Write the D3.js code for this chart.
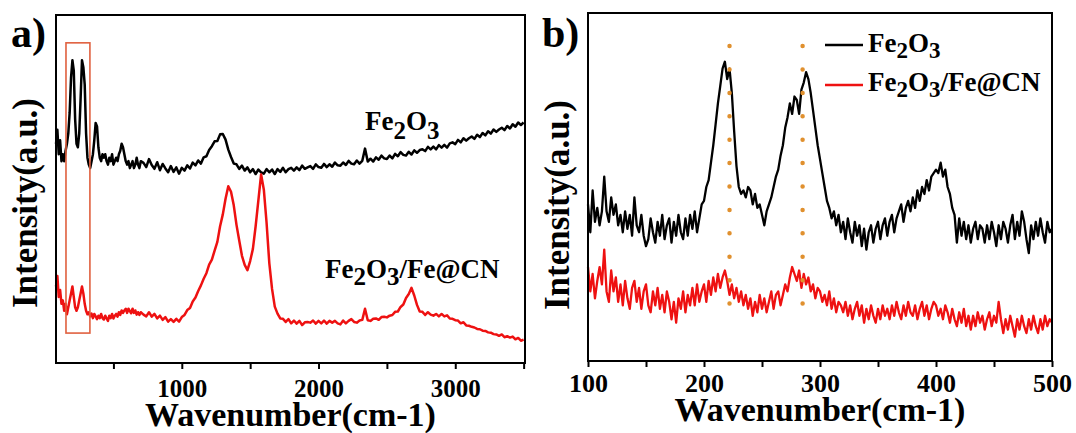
<!DOCTYPE html>
<html><head><meta charset="utf-8">
<script src="https://cdn.jsdelivr.net/npm/d3@7"></script>
<style>
body{margin:0;background:#fff}
svg{display:block}
</style>
</head><body>
<svg id="c" width="1076" height="433"></svg>
<script>
// ---------------- data ----------------
const ticksA = [500, 1000, 1500, 2000, 2500, 3000, 3500];
const tickLabelsA = [1000, 2000, 3000];
const ticksB = [100, 150, 200, 250, 300, 350, 400, 450, 500];
const tickLabelsB = [100, 200, 300, 400, 500];
const xDomainA = [80, 3510];
const xDomainB = [100, 500];
const lowRangeA = [80, 700];     // wavenumber span of the *LowA arrays
const highRangeA = [720, 3500];  // wavenumber span of the *HighA arrays
const rangeB = [100, 500];       // wavenumber span of panel b arrays
const boxA = [153, 328, 8.6, 92];  // red highlight box: wn0, wn1, low, high
const peakMarkersB = [222, 285];
const markerSpanB = [9.8, 90.5];

const fe2o3LowA = [63,67,60,64,58,60,58,61,63,66,
 72,82,87,84,70,63,62,66,76,87,
 85,80,66,59,57,56,58,60,64,69,
 68,62,59,58,60,59,60,58,57,59,
 58,60,57,58,59,58,60,61,63,62,
 60,58,57,58,56,57,58,56,57,59,
 57,56,58];
const fe2o3HighA = [57.5,56.3,58.6,56.9,55.8,57.7,55.4,57.2,55.9,54.8,
 56.6,54.9,56.2,54.4,56.1,55.3,56.8,55.9,57.6,56.8,
 58.2,57.3,59.1,59.4,61.2,62.3,63.7,63.8,65.7,65.8,
 64.2,61.3,59.2,57.3,57.1,55.8,56.7,55.3,56.2,54.8,
 55.7,54.3,55.6,54.8,54.4,55.7,54.8,55.6,54.3,55.7,
 54.9,56.1,54.8,55.7,56.1,55.3,56.2,55.4,56.7,55.8,
 56.2,56.6,55.8,57.1,56.3,56.1,57.2,56.3,57.1,56.4,
 57.6,56.8,56.7,57.6,56.9,58.1,57.3,57.1,58.2,57.3,
 58.1,61.6,57.9,58.7,57.9,59.1,58.4,59.6,58.8,58.6,
 59.6,58.8,60.1,59.4,60.6,59.8,59.6,60.7,59.9,61.1,
 60.4,61.2,61.4,60.9,62.1,61.4,62.2,61.4,62.6,61.9,
 62.7,61.9,63.1,63.4,62.9,64.1,63.4,64.6,63.9,64.6,
 65.1,64.4,65.6,64.9,66.1,65.4,66.6,65.9,67.1,66.4,
 67.1,67.6,66.9,68.1,67.4,68.6,67.9,69.1,68.4,69.1];
const compLowA = [22,25,19,21,17,18,15,17,14,16,
 18,20,22,19,16,15,16,18,20,22,
 20,17,15,14,14.6,13.4,14.2,12.9,14.1,13.4,
 12.6,13.6,12.9,14.1,12.9,12.5,13.6,12.8,12.1,13.6,
 12.9,14.1,12.8,13.6,14.1,13.3,14.6,13.8,15.1,14.4,
 15.1,15.6,14.4,15.6,14.9,14.3,15.6,14.4,15.1,13.9,
 14.6,13.8,14.6];
const compHighA = [13.9,13.4,14.6,13.3,14.1,12.8,13.6,12.4,13.2,11.9,
 12.6,11.8,12.7,11.9,13.2,13.8,15.2,15.8,17.7,18.8,
 20.7,22.3,24.2,25.8,28.3,29.7,32.3,34.8,39.3,42.7,
 47.2,50.8,49.2,45.3,39.7,35.2,30.8,28.2,26.7,29.3,
 32.8,39.3,46.7,54.2,49.8,40.3,28.7,21.3,16.2,14.2,
 12.8,12.7,11.8,12.6,11.4,12.2,11.3,12.1,10.9,11.7,
 11.8,11.6,12.2,11.3,12.1,11.4,12.2,11.3,12.1,11.6,
 12.1,11.4,11.1,12.2,11.4,12.1,12.6,11.8,11.6,12.2,
 12.4,15.6,12.3,12.1,12.7,12.8,12.4,13.2,13.3,13.1,
 13.6,13.8,14.7,14.8,16.1,16.8,18.7,19.8,21.6,19.4,
 16.7,14.8,14.7,13.8,14.6,13.9,13.6,14.1,13.4,14.1,
 13.4,13.7,12.8,12.7,12.3,12.2,11.4,11.7,10.8,10.7,
 10.4,10.2,9.8,9.7,9.3,9.2,8.8,8.7,8.3,8.2,
 7.8,8.2,7.4,7.7,7.3,7.6,6.8,7.2,6.4,6.7];
const fe2o3B = [45,37,49,40,44,39,43,53,43,40,
 47,42,45,39,42,37,43,38,42,36,
 47,39,37,42,36,33,35,41,37,34,
 40,36,42,35,39,41,34,40,36,42,
 37,35,41,36,42,38,43,37,41,45,
 46,50,52,57,62,68,74,79,84,86,
 81,84,77,66,56,50,48,49,47,50,
 49,45,48,44,45,42,39,43,45,47,
 50,53,55,59,62,67,70,74,71,76,
 75,71,78,80,83,81,77,72,67,62,
 58,54,50,46,44,41,43,39,42,37,
 40,35,41,37,34,40,36,39,33,38,
 32,37,39,34,38,40,35,39,41,36,
 40,42,37,41,43,45,40,44,46,43,
 47,44,49,46,50,48,52,49,53,54,
 55,54,57,53,55,50,48,44,42,34,
 41,36,40,35,39,34,38,40,35,39,
 38,34,39,35,40,37,33,39,35,40,
 38,34,39,42,35,40,36,43,40,35,
 31,39,35,40,36,41,37,34,40,37,
 38];
const compB = [27,20,25,18,23,27,22,32,20,17,
 26,20,24,17,22,16,23,18,15,21,
 23,17,21,15,20,22,16,14,20,16,
 21,15,19,14,20,17,12,17,11,18,
 15,20,14,19,16,21,16,22,17,20,
 22,17,23,19,24,20,25,21,24,26,
 23,19,22,18,21,17,20,16,19,15,
 18,13,17,14,19,15,18,14,17,20,
 15,19,20,16,19,22,20,24,27,25,
 23,26,21,25,22,24,20,22,18,21,
 20,17,19,16,20,15,18,14,17,16,
 14,17,13,16,12,15,17,13,16,11,
 15,12,16,13,11,15,12,16,13,15,
 12,16,13,17,14,12,16,13,17,14,
 13,16,12,15,17,13,16,12,15,17,
 16,13,15,12,16,14,11,15,12,10,
 14,11,15,10,13,9,13,10,14,11,
 13,9,12,14,10,13,11,17,12,8,
 12,9,13,10,7,12,9,13,10,8,
 12,9,13,10,8,12,9,13,10,12,
 11];

const labelFe2O3 = [["Fe",0],["2",1],["O",0],["3",1]];
const labelComp = [["Fe",0],["2",1],["O",0],["3",1],["/Fe@CN",0]];

// ---------------- helpers ----------------
const FONT = '"Liberation Serif"';
const BLACK = "#000", RED = "#ee1111", ORANGE = "#e0902e", BOXC = "#e0603f";
function toPoints(vals, range) {
  const step = (range[1] - range[0]) / (vals.length - 1);
  return vals.map((v, i) => [range[0] + i * step, v]);
}
function txt(sel, size) {
  return sel.style("font-family", FONT).style("font-weight", "bold")
    .style("font-size", size + "px").attr("fill", "#000");
}
function chem(sel, parts, size, subSize, shift) {
  txt(sel, size);
  let prevSub = 0;
  parts.forEach(([t, sub]) => {
    const ts = sel.append("tspan").text(t);
    const dy = (sub - prevSub) * shift;
    if (dy) ts.attr("dy", dy);
    if (sub) ts.style("font-size", subSize + "px");
    prevSub = sub;
  });
}
const svg = d3.select("#c");

function panel(opt) {
  const x = d3.scaleLinear().domain(opt.xDomain).range([opt.left, opt.right]);
  const y = d3.scaleLinear().domain([0, 100]).range([opt.bottom, opt.top]);
  const g = svg.append("g");
  const line = d3.line().x(d => x(d[0])).y(d => y(d[1]));
  opt.series.forEach(s => {
    g.append("path").datum(s.pts).attr("d", line)
      .attr("fill", "none").attr("stroke", s.color)
      .attr("stroke-width", s.width).attr("stroke-linejoin", "round");
  });
  g.append("rect").attr("x", opt.left).attr("y", opt.top)
    .attr("width", opt.right - opt.left).attr("height", opt.bottom - opt.top)
    .attr("fill", "none").attr("stroke", "#000").attr("stroke-width", 2);
  const ax = d3.axisBottom(x).tickValues(opt.ticks).tickSize(6)
    .tickFormat(d => opt.labels.includes(d) ? String(d) : "");
  const axg = g.append("g").attr("transform", `translate(0,${opt.bottom})`).call(ax);
  axg.select(".domain").remove();
  axg.selectAll(".tick line").attr("stroke", "#000").attr("stroke-width", 2);
  txt(axg.selectAll(".tick text").attr("y", opt.tickBase - opt.bottom).attr("dy", 0), opt.tickSize);
  txt(g.append("text"), 34).attr("x", (opt.left + opt.right) / 2).attr("y", opt.titleBase)
    .attr("text-anchor", "middle").text("Wavenumber(cm-1)");
  txt(g.append("text"), 35).attr("transform", `translate(${opt.yTitleX},${opt.yTitleY}) rotate(-90)`)
    .attr("text-anchor", "middle").text("Intensity(a.u.)");
  txt(g.append("text"), 42).attr("x", opt.panelX).attr("y", 47).text(opt.panel);
  return {x, y, g};
}

// ---------------- panel a ----------------
const A = panel({
  xDomain: xDomainA, left: 56, right: 525, top: 15, bottom: 363,
  ticks: ticksA, labels: tickLabelsA, tickBase: 397, tickSize: 25, titleBase: 426,
  yTitleX: 37, yTitleY: 203, panel: "a)", panelX: 11,
  series: [
    {pts: toPoints(fe2o3LowA, lowRangeA).concat(toPoints(fe2o3HighA, highRangeA)), color: BLACK, width: 2.5},
    {pts: toPoints(compLowA, lowRangeA).concat(toPoints(compHighA, highRangeA)), color: RED, width: 2.5}
  ]
});
A.g.append("rect").attr("x", A.x(boxA[0])).attr("y", A.y(boxA[3]))
  .attr("width", A.x(boxA[1]) - A.x(boxA[0])).attr("height", A.y(boxA[2]) - A.y(boxA[3]))
  .attr("fill", "none").attr("stroke", BOXC).attr("stroke-width", 1.6);
chem(A.g.append("text").attr("x", 365).attr("y", 130), labelFe2O3, 27, 25, 9);
chem(A.g.append("text").attr("x", 325).attr("y", 278), labelComp, 27, 25, 7);

// ---------------- panel b ----------------
const B = panel({
  xDomain: xDomainB, left: 588, right: 1052, top: 13, bottom: 361,
  ticks: ticksB, labels: tickLabelsB, tickBase: 392, tickSize: 26, titleBase: 421,
  yTitleX: 569, yTitleY: 205, panel: "b)", panelX: 542,
  series: [
    {pts: toPoints(fe2o3B, rangeB), color: BLACK, width: 2.3},
    {pts: toPoints(compB, rangeB), color: RED, width: 2.3}
  ]
});
peakMarkersB.forEach(p => {
  B.g.append("line").attr("x1", B.x(p)).attr("x2", B.x(p))
    .attr("y1", B.y(markerSpanB[1])).attr("y2", B.y(markerSpanB[0]))
    .attr("stroke", ORANGE).attr("stroke-width", 4.5)
    .attr("stroke-linecap", "round").attr("stroke-dasharray", "0.01 23.4");
});
[[labelFe2O3, BLACK, 45, 52], [labelComp, RED, 85, 91]].forEach(([lab, col, ly, tb]) => {
  B.g.append("line").attr("x1", 825).attr("x2", 863).attr("y1", ly).attr("y2", ly)
    .attr("stroke", col).attr("stroke-width", 2.5);
  chem(B.g.append("text").attr("x", 868).attr("y", tb), lab, 27, 23, 6);
});
</script>
</body></html>
